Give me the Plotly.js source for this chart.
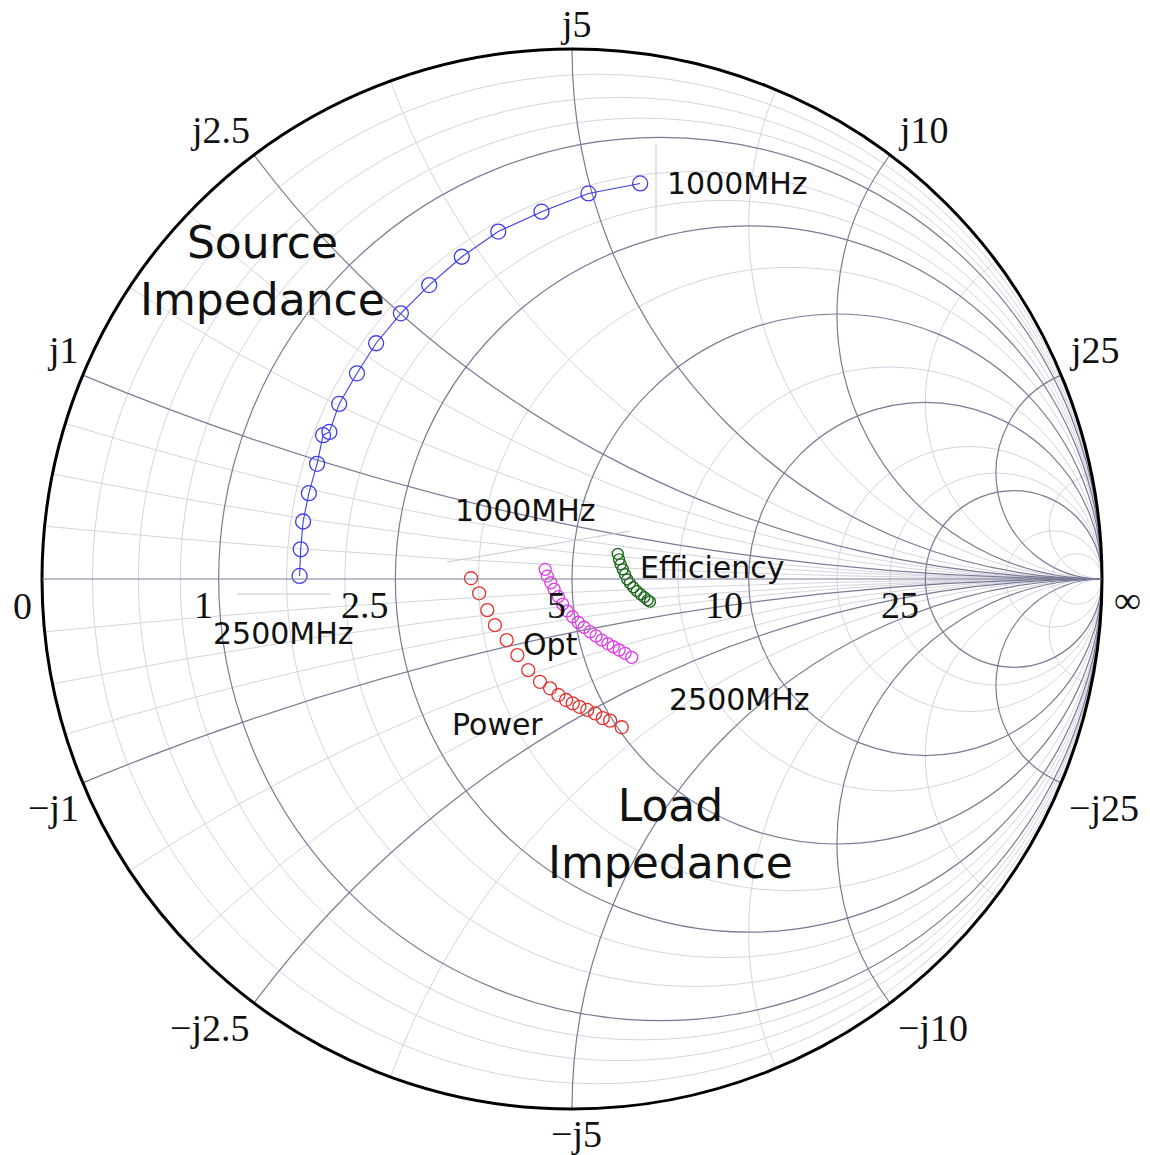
<!DOCTYPE html>
<html>
<head>
<meta charset="utf-8">
<script src="https://cdn.plot.ly/plotly-3.0.1.min.js"></script>
<style>
  html, body { margin: 0; padding: 0; background: #ffffff; }
  #chart { width: 1150px; height: 1155px; }
</style>
</head>
<body>
<div id="chart"></div>
<script>
// ---------------- Chart data (impedances normalised to Z0 = 5 ohm) ----------------
// Axis labels (ohms) and the normalised grid values where they sit
const realTickVals  = [0.2, 0.5, 1, 2, 5];
const realTickText  = ['1', '2.5', '5', '10', '25'];
const imagTickVals  = [0.2, 0.5, 1, 2, 5];
const imagPosText   = ['j1', 'j2.5', 'j5', 'j10', 'j25'];
const imagNegText   = ['\u2212j1', '\u2212j2.5', '\u2212j5', '\u2212j10', '\u2212j25'];

// Minor (light) grid values
const minorRealVals = [0.05, 0.1, 0.15, 0.3, 0.4, 0.7, 1.5, 3, 4, 10, 20];
const minorImagVals = [0.05, 0.1, 0.15, 0.3, 0.4, 0.7, 1.5, 3, 10];

// Source impedance, 1000 MHz -> 2500 MHz
const sourceRe = [0.324, 0.320, 0.323, 0.319, 0.321, 0.323, 0.322, 0.321, 0.322, 0.320, 0.324, 0.316, 0.322, 0.321, 0.320, 0.321, 0.321];
const sourceIm = [1.134, 0.991, 0.867, 0.759, 0.665, 0.578, 0.501, 0.429, 0.365, 0.303, 0.252, 0.243, 0.194, 0.143, 0.095, 0.049, 0.005];

// Load impedance for maximum power
const powerRe = [0.680, 0.701, 0.720, 0.736, 0.762, 0.783, 0.802, 0.825, 0.848, 0.865, 0.882, 0.898, 0.914, 0.934, 0.954, 0.970, 0.990, 1.015];
const powerIm = [0.002, -0.039, -0.087, -0.132, -0.181, -0.232, -0.286, -0.334, -0.366, -0.398, -0.425, -0.446, -0.468, -0.492, -0.518, -0.549, -0.573, -0.622];

// Optimum load impedance
const optRe = [0.903, 0.911, 0.923, 0.934, 0.948, 0.961, 0.975, 0.992, 1.010, 1.029, 1.049, 1.069, 1.088, 1.109, 1.128, 1.149, 1.170, 1.193];
const optIm = [0.033, 0.010, -0.013, -0.036, -0.063, -0.091, -0.118, -0.142, -0.166, -0.189, -0.211, -0.233, -0.255, -0.276, -0.295, -0.316, -0.338, -0.365];

// Load impedance for maximum efficiency
const effRe = [1.183, 1.191, 1.200, 1.211, 1.222, 1.233, 1.245, 1.261, 1.277, 1.295, 1.312, 1.328, 1.339];
const effIm = [0.113, 0.089, 0.067, 0.045, 0.022, -0.002, -0.020, -0.040, -0.059, -0.076, -0.092, -0.108, -0.117];

// ---------------- Layout geometry ----------------
const W = 1150, H = 1155;
const CX = 572, CY = 579, RAD = 530;          // chart circle in pixels
const dom = {
  x: [(CX - RAD) / W, (CX + RAD) / W],
  y: [1 - (CY + RAD) / H, 1 - (CY - RAD) / H]
};
const MAJOR = 'rgb(122,122,150)';
const MINOR = 'rgb(212,212,222)';

function withNeg(vals) { return vals.map(v => -v).reverse().concat(vals); }

// map an impedance to page (paper) coordinates via the reflection coefficient
function gammaOf(re, im) {
  const d = (re + 1) * (re + 1) + im * im;
  return [(re * re + im * im - 1) / d, (2 * im) / d];
}
function toPaper(gx, gy, dx, dy) {
  return [(CX + gx * RAD + (dx || 0)) / W, 1 - (CY - gy * RAD + (dy || 0)) / H];
}

const serif = { family: 'Liberation Serif, Times New Roman, serif', size: 38, color: '#111' };
const sans  = { family: 'DejaVu Sans, Verdana, sans-serif', size: 30, color: '#111' };
const sansBig = { family: 'DejaVu Sans, Verdana, sans-serif', size: 44, color: '#111' };

const annotations = [];
function ann(p, text, font, xa, ya) {
  annotations.push({ xref: 'paper', yref: 'paper', x: p[0], y: p[1], text: text,
    showarrow: false, font: font, xanchor: xa, yanchor: ya });
}

// resistance labels on the real axis
realTickVals.forEach((r, i) => {
  const g = gammaOf(r, 0);
  ann(toPaper(g[0], g[1], -4, 3), realTickText[i], serif, 'right', 'top');
});
ann(toPaper(-1, 0, -8, 4), '0', serif, 'right', 'top');
ann(toPaper(1, 0, 10, -2), '\u221e', serif, 'left', 'top');

// reactance labels round the rim
imagTickVals.forEach((x, i) => {
  [[x, imagPosText[i]], [-x, imagNegText[i]]].forEach(([v, t]) => {
    const g = gammaOf(0, v);
    const xa = g[0] < -0.1 ? 'right' : (g[0] > 0.1 ? 'left' : 'center');
    const ya = g[1] > 0 ? 'bottom' : 'top';
    ann(toPaper(g[0], g[1], g[0] < -0.1 ? -2 : (g[0] > 0.1 ? 6 : 4), g[1] > 0 ? -2 : 2), t, serif, xa, ya);
  });
});

// descriptive labels
function pp(px, py) { return [px / W, 1 - py / H]; }
ann(pp(262, 271), 'Source<br>Impedance', sansBig, 'center', 'middle');
ann(pp(670, 834), 'Load<br>Impedance', sansBig, 'center', 'middle');
ann(pp(665, 184), '1000MHz', sans, 'left', 'middle');
ann(pp(525, 511), '1000MHz', sans, 'center', 'middle');
ann(pp(283, 633), '2500MHz', sans, 'center', 'middle');
ann(pp(739, 699), '2500MHz', sans, 'center', 'middle');
ann(pp(712, 567), 'Efficiency', sans, 'center', 'middle');
ann(pp(550, 644), 'Opt', sans, 'center', 'middle');
ann(pp(497, 724), 'Power', sans, 'center', 'middle');

// faint leader lines beside the frequency labels
const LEAD = 'rgb(200,200,208)';
function lead(a, b) {
  const p = pp(a[0], a[1]), q = pp(b[0], b[1]);
  return { type: 'line', xref: 'paper', yref: 'paper', x0: p[0], y0: p[1], x1: q[0], y1: q[1],
    line: { color: LEAD, width: 1 }, layer: 'above' };
}
const shapes = [
  lead([656, 144], [656, 236]),
  lead([447, 562], [630, 531]),
  lead([237, 594], [330, 594])
];

const traces = [
  // invisible copy so the light-grid subplot is drawn
  { type: 'scattersmith', subplot: 'smith', real: effRe, imag: effIm, mode: 'markers',
    marker: { opacity: 0 }, hoverinfo: 'skip', showlegend: false },
  { type: 'scattersmith', subplot: 'smith2', real: sourceRe, imag: sourceIm, mode: 'lines+markers',
    name: 'Source Impedance',
    line: { color: 'rgb(60,60,235)', width: 1.1 },
    marker: { symbol: 'circle-open', size: 15, color: 'rgb(60,60,235)', line: { width: 1.3 } } },
  { type: 'scattersmith', subplot: 'smith2', real: powerRe, imag: powerIm, mode: 'markers',
    name: 'Power',
    marker: { symbol: 'circle-open', size: 13, color: 'rgb(228,50,45)', line: { width: 1.3 } } },
  { type: 'scattersmith', subplot: 'smith2', real: optRe, imag: optIm, mode: 'markers',
    name: 'Opt',
    marker: { symbol: 'circle-open', size: 12, color: 'rgb(225,60,230)', line: { width: 1.3 } } },
  { type: 'scattersmith', subplot: 'smith2', real: effRe, imag: effIm, mode: 'markers',
    name: 'Efficiency',
    marker: { symbol: 'circle-open', size: 11, color: 'rgb(30,105,30)', line: { width: 1.4 } } }
];

const layout = {
  width: W, height: H,
  margin: { l: 0, r: 0, t: 0, b: 0 },
  paper_bgcolor: '#ffffff',
  showlegend: false,
  smith: {
    domain: dom,
    bgcolor: '#ffffff',
    realaxis: { tickvals: minorRealVals, showgrid: true, gridcolor: MINOR, gridwidth: 1,
      showline: false, showticklabels: false, ticks: '' },
    imaginaryaxis: { tickvals: withNeg(minorImagVals), showgrid: true, gridcolor: MINOR, gridwidth: 1,
      showline: false, showticklabels: false, ticks: '' }
  },
  smith2: {
    domain: dom,
    bgcolor: 'rgba(0,0,0,0)',
    realaxis: { tickvals: realTickVals, showgrid: true, gridcolor: MAJOR, gridwidth: 1.2,
      showline: true, linecolor: MAJOR, linewidth: 1.2, showticklabels: false, ticks: '' },
    imaginaryaxis: { tickvals: withNeg(imagTickVals), showgrid: true, gridcolor: MAJOR, gridwidth: 1.2,
      showline: true, linecolor: '#000000', linewidth: 3, showticklabels: false, ticks: '' }
  },
  shapes: shapes,
  annotations: annotations
};

Plotly.newPlot('chart', traces, layout, { displayModeBar: false, staticPlot: true });
</script>
</body>
</html>
